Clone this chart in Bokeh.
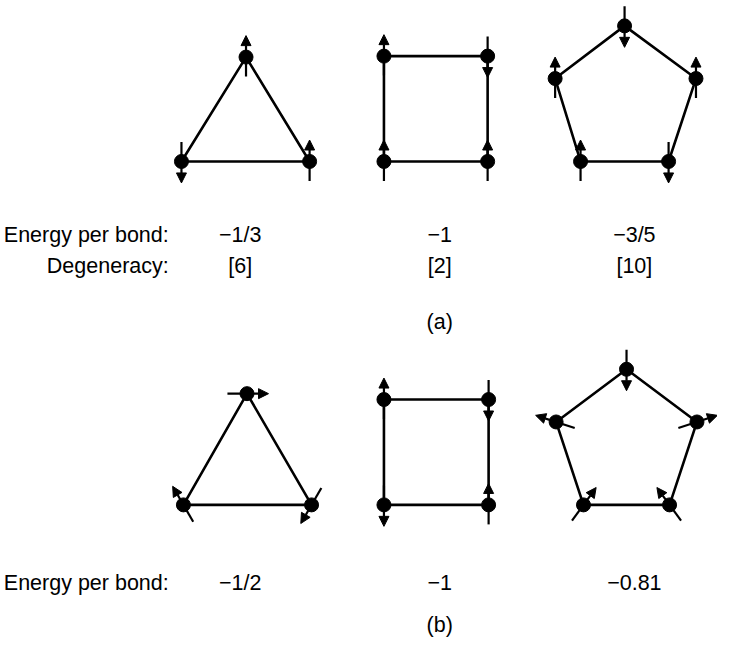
import math
from bokeh.plotting import figure
from bokeh.models import Range1d, Arrow, NormalHead, ColumnDataSource
from bokeh.embed import file_html
from bokeh.resources import INLINE
from bokeh.core.properties import value

# ---- diagram data (vertex positions in picture units, y pointing down) ----
tri_a_x = [251, 316, 185]
tri_a_y = [58, 165, 165]
sq_a_x = [392, 498, 498, 392]
sq_a_y = [57, 57, 165, 165]
pent_a_x = [638, 711, 683, 593, 567]
pent_a_y = [26, 80, 165, 165, 80]

tri_b_x = [252, 318, 187]
tri_b_y = [403, 517, 517]
sq_b_x = [392, 499, 499, 392]
sq_b_y = [409, 409, 517, 517]
pent_b_x = [640, 712, 684, 596, 568]
pent_b_y = [378, 432, 517, 517, 432]

# spin directions (degrees, counter-clockwise from +x), same vertex order
tri_a_spin = [90, 90, 270]
sq_a_spin = [90, 270, 90, 90]
pent_a_spin = [270, 90, 270, 90, 90]
tri_b_spin = [0, 240, 120]
sq_b_spin = [90, 270, 90, 270]
pent_b_spin = [270, 18, 126, 54, 162]

# labels
column_x = [245, 449, 648]
energy_a = ["\u22121/3", "\u22121", "\u22123/5"]
degeneracy_a = ["[6]", "[2]", "[10]"]
energy_b = ["\u22121/2", "\u22121", "\u22120.81"]
row_label_energy = "Energy per bond:"
row_label_degen = "Degeneracy:"
panel_labels = ["(a)", "(b)"]

shapes = [
    (tri_a_x, tri_a_y, tri_a_spin),
    (sq_a_x, sq_a_y, sq_a_spin),
    (pent_a_x, pent_a_y, pent_a_spin),
    (tri_b_x, tri_b_y, tri_b_spin),
    (sq_b_x, sq_b_y, sq_b_spin),
    (pent_b_x, pent_b_y, pent_b_spin),
]

W, H = 717, 640
p = figure(width=W, height=H, output_backend="svg", toolbar_location=None,
           x_range=Range1d(0, 733), y_range=Range1d(656, 0),
           x_axis_type=None, y_axis_type=None, min_border=0)
p.outline_line_color = None
p.grid.visible = False
p.background_fill_color = "white"
p.border_fill_color = "white"

FONT = value("Liberation Sans")
FS = "21.5px"

# polygon edges
p.patches([s[0] for s in shapes], [s[1] for s in shapes], fill_color=None,
          line_color="black", line_width=2.6)

# spins
TAIL, TIP = 20, 22
xs, ys, xe, ye = [], [], [], []
for sx, sy, sp in shapes:
    for x, y, a in zip(sx, sy, sp):
        c, s = math.cos(math.radians(a)), math.sin(math.radians(a))
        xs.append(x - TAIL * c)
        ys.append(y + TAIL * s)
        xe.append(x + TIP * c)
        ye.append(y - TIP * s)
src = ColumnDataSource(dict(xs=xs, ys=ys, xe=xe, ye=ye))
p.add_layout(Arrow(end=NormalHead(size=10, fill_color="black", line_color="black", line_width=1),
                   x_start="xs", y_start="ys", x_end="xe", y_end="ye",
                   source=src, line_width=2.2, line_color="black"))

# sites
allx = [x for s in shapes for x in s[0]]
ally = [y for s in shapes for y in s[1]]
p.scatter(allx, ally, size=14, color="black")

# texts
p.text([172, 172, 172], [240, 272, 597], [row_label_energy, row_label_degen, row_label_energy],
       text_align="right", text_baseline="alphabetic", text_font=FONT,
       text_font_size=FS, text_color="black")
p.text(column_x, [240] * 3, energy_a, text_align="center", text_baseline="alphabetic",
       text_font=FONT, text_font_size=FS, text_color="black")
p.text(column_x, [272] * 3, degeneracy_a, text_align="center", text_baseline="alphabetic",
       text_font=FONT, text_font_size=FS, text_color="black")
p.text(column_x, [597] * 3, energy_b, text_align="center", text_baseline="alphabetic",
       text_font=FONT, text_font_size=FS, text_color="black")
p.text([449, 449], [330, 640], panel_labels, text_align="center", text_baseline="alphabetic",
       text_font=FONT, text_font_size=FS, text_color="black")

open("out.html", "w").write(file_html(p, INLINE))
